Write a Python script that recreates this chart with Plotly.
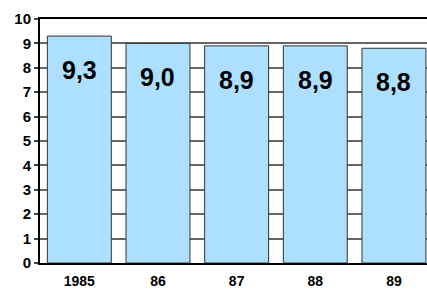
import plotly.graph_objects as go

categories = ["1985", "86", "87", "88", "89"]
values = [9.3, 9.0, 8.9, 8.9, 8.8]
value_labels = ["9,3", "9,0", "8,9", "8,9", "8,8"]
y_ticks = list(range(0, 11))

FONT = "Liberation Sans, Arial, sans-serif"

fig = go.Figure()
fig.add_trace(go.Bar(
    x=categories, y=values,
    marker=dict(color="#ADDFFF", line=dict(color="#333333", width=1)),
    hoverinfo="skip",
))

for i, (v, t) in enumerate(zip(values, value_labels)):
    fig.add_annotation(x=i, y=v, xref="x", yref="y", text=t, showarrow=False,
                       yshift=-34,
                       font=dict(family=FONT, size=25, color="black", weight="bold"))

fig.update_layout(
    width=427, height=289,
    margin=dict(l=40, r=0, t=19, b=24),
    paper_bgcolor="white", plot_bgcolor="white",
    bargap=0.187,
    showlegend=False,
    font=dict(family=FONT, size=14, color="black"),
)
fig.update_xaxes(
    type="category", range=[-0.5, 4.42],
    showline=True, linecolor="black", linewidth=2, mirror=True,
    showgrid=False, ticks="", ticklabelstandoff=4,
    tickfont=dict(family=FONT, size=14, color="black", weight="bold"),
)
fig.update_yaxes(
    range=[0, 10], tickvals=y_ticks,
    showline=True, linecolor="black", linewidth=2,
    showgrid=True, gridcolor="#666666", gridwidth=1.5,
    ticks="outside", ticklen=4, tickcolor="#444444", tickwidth=1.5,
    zeroline=False,
    tickfont=dict(family=FONT, size=15, color="black", weight="bold"),
)

fig.write_html("out.html", config={"displayModeBar": False},
               post_script="document.body.style.margin='0';")
